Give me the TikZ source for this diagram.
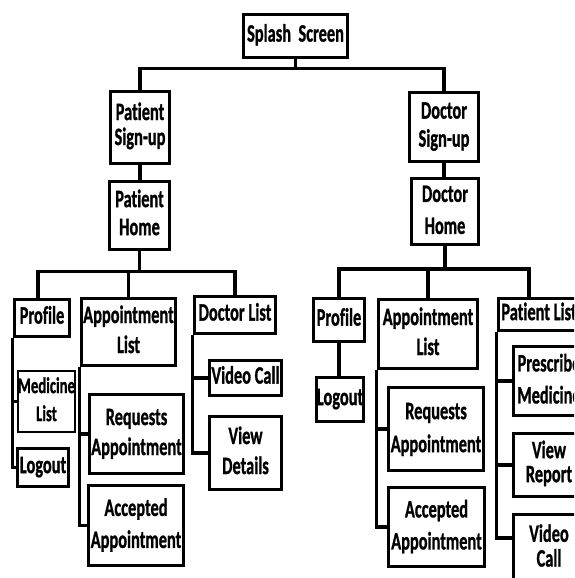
\documentclass[tikz,border=0pt]{standalone}
\usepackage{fontspec}
\setmainfont{Carlito}[Ligatures=NoCommon,BoldFeatures={FakeBold=1.2}]
\usepackage{graphicx}
\newcommand\lbl[2][28]{\scalebox{0.655}[1]{\fontsize{25}{#1}\selectfont\bfseries\begin{tabular}{@{}c@{}}#2\end{tabular}}}
\newcommand\lblsmall[2][28]{\scalebox{0.655}[1]{\fontsize{22.5}{#1}\selectfont\bfseries\begin{tabular}{@{}c@{}}#2\end{tabular}}}
\tikzset{
  box/.style={draw, line width=3.8pt, inner sep=0pt, fill=white},
  thinbox/.style={draw, line width=2.2pt, inner sep=0pt, fill=white},
  conn/.style={line width=3.2pt}
}
\begin{document}
\begin{tikzpicture}[x=1pt,y=-1pt]
\clip (0,0) rectangle (574,578);
\fill[white] (0,0) rectangle (574,578);
% top levels
\node[box, minimum width=104, minimum height=43] (splash) at (295.5,36) {\lbl{Splash\ \ Screen}};
\node[box, minimum width=59, minimum height=72] (psign) at (140,127.5) {\lbl[25]{Patient\\Sign-up}};
\node[box, minimum width=60, minimum height=68] (phome) at (139.5,215.5) {\lbl{Patient\\Home}};
\node[box, minimum width=69, minimum height=69] (dsign) at (444,127) {\lbl{Doctor\\Sign-up}};
\node[box, minimum width=67, minimum height=66] (dhome) at (445,211.5) {\lbl[32]{Doctor\\Home}};
% patient side
\node[box, minimum width=55, minimum height=37] (pprofile) at (42,318) {\lbl{Profile}};
\node[box, minimum width=94, minimum height=67] (papp) at (128.5,332) {\lbl[30]{Appointment\\List}};
\node[box, minimum width=81, minimum height=37] (pdoc) at (235,315) {\lbl{Doctor List}};
\node[thinbox, minimum width=57, minimum height=61] (pmed) at (46.5,401.5) {\lblsmall{Medicine\\List}};
\node[box, minimum width=51, minimum height=38] (plogout) at (43,467.5) {\lbl{Logout}};
\node[box, minimum width=94, minimum height=79] (preq) at (136.5,434) {\lbl[30]{Requests\\Appointment}};
\node[box, minimum width=95, minimum height=80] (pacc) at (136,525.5) {\lbl[32]{Accepted\\Appointment}};
\node[box, minimum width=72, minimum height=35] (pvc) at (245.5,378) {\lbl{Video Call}};
\node[box, minimum width=72, minimum height=73] (pvd) at (245.5,453) {\lbl[30]{View\\Details}};
% doctor side
\node[box, minimum width=51, minimum height=43] (dprofile) at (339,320) {\lbl{Profile}};
\node[box, minimum width=47, minimum height=44] (dlogout) at (340,399.5) {\lbl{Logout}};
\node[box, minimum width=99, minimum height=69] (dapp) at (428,334) {\lbl[30]{Appointment\\List}};
\node[box, minimum width=95, minimum height=83] (dreq) at (436,429) {\lbl[33]{Requests\\Appointment}};
\node[box, minimum width=96, minimum height=79] (dacc) at (436.5,527) {\lbl[32]{Accepted\\Appointment}};
\node[box, minimum width=81, minimum height=32] (dpat) at (539,314.5) {\lbl{Patient List}};
\node[box, minimum width=71, minimum height=69] (dpres) at (549,381) {\lbl[32]{Prescribe\\Medicine}};
\node[box, minimum width=71, minimum height=63] (dview) at (549,465) {\lbl[24]{View\\Report}};
\node[box, minimum width=71, minimum height=69] (dvc) at (549,549) {\lbl[24]{Video\\Call}};
% connectors top
\draw[conn] (splash.south) -- ++(0,9) coordinate (t);
\draw[conn] (psign.north) |- (t) -| (dsign.north);
\draw[conn] (psign.south) -- (psign.south |- phome.north);
\draw[conn] (dsign.south) -- (dsign.south |- dhome.north);
% patient bar
\draw[conn] (phome.south) -- ++(0,20) coordinate (b1);
\draw[conn] ([xshift=-4pt]pprofile.north) |- (b1) -| (pdoc.north);
\draw[conn] (papp.north) -- (papp.north |- b1);
% doctor bar
\draw[conn] (dhome.south) -- ++(0,22.5) coordinate (b2);
\draw[conn] (dprofile.north) |- (b2) -| ([xshift=-10pt]dpat.north);
\draw[conn] (dapp.north) -- (dapp.north |- b2);
% stems patient
\draw[conn] (pprofile.south west) |- (pmed.west);
\draw[conn] (pprofile.south west) |- (plogout.west);
\draw[conn] (papp.south west) |- (preq.west);
\draw[conn] (papp.south west) |- (pacc.west);
\draw[conn] (pdoc.south west) |- (pvc.west);
\draw[conn] (pdoc.south west) |- (pvd.west);
% stems doctor
\draw[conn] (dprofile.south) -- (dprofile.south |- dlogout.north);
\draw[conn] (dapp.south west) |- (dreq.west);
\draw[conn] (dapp.south west) |- (dacc.west);
\draw[conn] (dpat.south west) |- (dpres.west);
\draw[conn] (dpat.south west) |- (dview.west);
\draw[conn] (dpat.south west) |- ([yshift=11pt]dvc.west);
\end{tikzpicture}
\end{document}
